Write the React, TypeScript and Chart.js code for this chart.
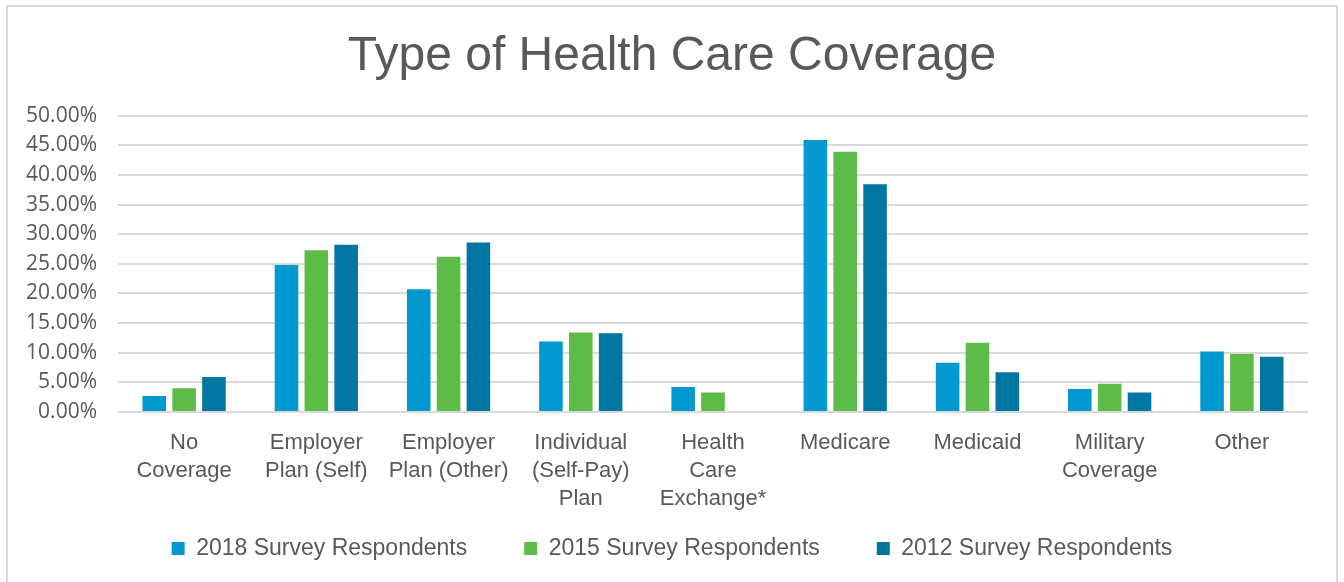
import React, { useEffect, useRef } from "react";
import { Chart, registerables } from "chart.js";

Chart.register(...registerables);

const categories: (string | string[])[] = [
  ["No", "Coverage"],
  ["Employer", "Plan (Self)"],
  ["Employer", "Plan (Other)"],
  ["Individual", "(Self-Pay)", "Plan"],
  ["Health", "Care", "Exchange*"],
  "Medicare",
  "Medicaid",
  ["Military", "Coverage"],
  "Other",
];

const seriesNames = [
  "2018 Survey Respondents",
  "2015 Survey Respondents",
  "2012 Survey Respondents",
];

const values2018 = [2.7, 24.8, 20.7, 11.9, 4.2, 45.9, 8.3, 3.9, 10.2];
const values2015 = [4.0, 27.3, 26.2, 13.4, 3.3, 43.9, 11.7, 4.75, 9.8];
const values2012 = [5.9, 28.2, 28.6, 13.3, null, 38.4, 6.7, 3.3, 9.3];

const colors = ["#0099CF", "#5DBB47", "#0077A3"];

const TEXT = "#595959";
const GRID = "#D9D9D9";

// The legend's wide item gap is also used as vertical padding by Chart.js;
// give the legend a compact box and place its row where the reference has it.
const legendFit = {
  id: "legendFit",
  beforeLayout(chart: any) {
    const lg = chart.legend;
    if (!lg || lg.__patched) return;
    const orig = lg.fit.bind(lg);
    lg.fit = function () {
      orig();
      this.height = 69;
    };
    lg.__patched = true;
  },
  afterLayout(chart: any) {
    const lg = chart.legend;
    if (!lg) return;
    lg.top = 480;
    lg.bottom = 582;
    lg.height = 102;
  },
};

export default function App() {
  const ref = useRef<HTMLCanvasElement | null>(null);

  useEffect(() => {
    if (!ref.current) return;
    const chart = new Chart(ref.current, {
      type: "bar",
      data: {
        labels: categories,
        datasets: [values2018, values2015, values2012].map((d, i) => ({
          label: seriesNames[i],
          data: d,
          backgroundColor: colors[i],
          borderWidth: 0,
          categoryPercentage: 0.677,
          barPercentage: 0.79,
        })),
      },
      plugins: [legendFit],
      options: {
        animation: false,
        responsive: false,
        layout: { padding: { left: 23, right: 23, top: 0, bottom: 0 } },
        plugins: {
          tooltip: { enabled: false },
          title: {
            display: true,
            text: "Type of Health Care Coverage",
            color: TEXT,
            font: { family: "'Liberation Sans', Arial, sans-serif", size: 48, weight: "normal", lineHeight: 1.2 },
            padding: { top: 28, bottom: 30 },
          },
          legend: {
            position: "bottom",
            labels: {
              color: TEXT,
              font: { family: "'Liberation Sans', Arial, sans-serif", size: 23 },
              boxWidth: 13,
              boxHeight: 13,
              padding: 57,
            },
          },
        },
        scales: {
          x: {
            grid: { display: false, drawTicks: false },
            border: { display: false },
            ticks: {
              color: TEXT,
              font: { family: "'Liberation Sans', Arial, sans-serif", size: 22, lineHeight: 1.27 },
              padding: 17,
              maxRotation: 0,
              autoSkip: false,
            },
            afterFit: (s: any) => {
              s.height = 101;
            },
          },
          y: {
            min: 0,
            max: 50,
            grid: { color: GRID, lineWidth: 2, drawTicks: false },
            border: { display: false },
            ticks: {
              stepSize: 5,
              autoSkip: false,
              color: TEXT,
              padding: 21,
              font: { family: "'Open Sans', sans-serif", size: 21 },
              callback: (v: any) => Number(v).toFixed(2) + "%",
            },
            afterFit: (s: any) => {
              s.width = 95;
            },
          },
          y2: {
            position: "right",
            display: true,
            grid: { display: false, drawTicks: false },
            border: { display: false },
            ticks: { display: false },
            afterFit: (s: any) => {
              s.width = 13;
            },
          },
        },
      },
    });
    return () => chart.destroy();
  }, []);

  return (
    <div
      style={{
        position: "fixed",
        left: 0,
        top: 0,
        width: 1344,
        height: 582,
        overflow: "hidden",
        background: "#fff",
      }}
    >
      <div
        style={{
          position: "absolute",
          left: 6,
          top: 5,
          width: 1332,
          height: 700,
          border: `2px solid ${GRID}`,
          boxSizing: "border-box",
        }}
      />
      <canvas ref={ref} width={1344} height={582} style={{ position: "absolute", left: 0, top: 0 }} />
    </div>
  );
}
